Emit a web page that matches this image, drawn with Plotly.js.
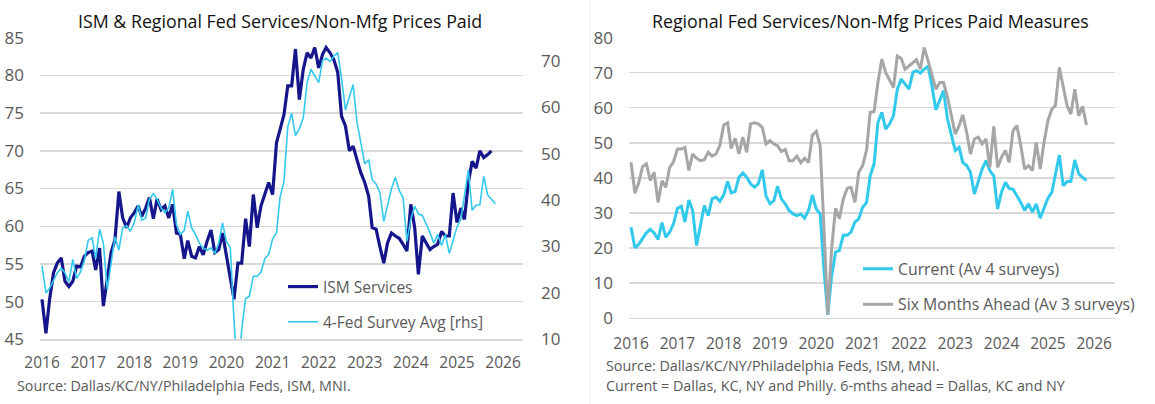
<!DOCTYPE html>
<html>
<head>
<meta charset="utf-8">
<script src="https://cdn.plot.ly/plotly-3.0.1.min.js"></script>
<style>
  html, body { margin: 0; padding: 0; background: #ffffff; }
  #chart { width: 1155px; height: 404px; }
</style>
</head>
<body>
<div id="chart"></div>
<script>
// ---- Data (monthly, first value = Jan 2016) ----
const startYear = 2016;
const startMonth = 1;

// ISM Services prices paid (left chart, left axis) Jan 2016 - Oct 2025
const ismServices = [
  50.3, 45.8, 50.3, 53.8, 55.1, 55.8, 52.7, 52.0, 52.7, 54.7, 54.6, 56.0,
  56.5, 56.7, 54.2, 57.1, 49.4, 53.4, 56.5, 58.2, 64.6, 61.1, 59.8, 61.1,
  61.8, 62.7, 61.3, 62.4, 63.8, 61.0, 63.6, 62.2, 62.7, 61.1, 62.9, 59.1,
  58.9, 55.7, 58.1, 56.0, 55.8, 57.3, 56.2, 58.0, 59.5, 56.5, 56.9, 59.1,
  56.0, 53.4, 50.3, 55.1, 55.1, 61.0, 57.3, 64.2, 59.8, 62.7, 64.4, 65.8,
  64.2, 71.1, 72.8, 74.8, 78.6, 78.6, 83.5, 76.8, 80.8, 83.0, 82.3, 83.7,
  81.0, 82.8, 83.7, 83.0, 82.1, 80.4, 74.6, 73.3, 70.0, 70.6, 68.8, 67.1,
  65.8, 64.0, 59.8, 59.6, 57.3, 55.1, 57.8, 59.1, 58.7, 58.4, 57.6, 56.7,
  62.9, 59.8, 53.6, 58.7, 57.8, 56.9, 57.3, 57.6, 59.3, 58.7, 58.7, 64.4,
  60.5, 62.4, 60.9, 65.8, 68.6, 67.7, 70.0, 69.1, 69.5, 70.0
];

// 4-Fed survey average, current prices paid (left chart rhs; right chart "Current") Jan 2016 - Nov 2025
const fourFedCurrent = [
  25.9, 20.0, 21.0, 22.6, 24.3, 25.3, 24.3, 22.4, 27.2, 23.1, 24.5, 26.9,
  31.3, 31.9, 27.4, 33.7, 30.7, 20.7, 26.4, 32.1, 29.2, 34.0, 34.5, 33.3,
  35.1, 39.0, 35.7, 36.1, 40.2, 41.4, 40.2, 38.3, 37.3, 38.3, 42.3, 34.8,
  32.6, 33.5, 37.6, 34.0, 32.6, 30.7, 29.7, 29.2, 29.7, 28.5, 30.7, 35.1,
  31.1, 29.7, 14.1, 0.9, 12.0, 18.8, 19.3, 23.6, 23.6, 24.5, 27.4, 28.3,
  31.6, 33.0, 40.6, 44.0, 55.8, 58.7, 53.9, 55.4, 57.7, 65.3, 68.2, 66.8,
  65.3, 70.1, 70.6, 69.9, 71.0, 71.8, 66.3, 59.4, 62.0, 64.9, 56.8, 52.0,
  47.8, 48.7, 44.4, 43.5, 41.6, 35.4, 39.2, 42.5, 44.9, 42.1, 40.5, 31.1,
  35.9, 38.7, 37.0, 36.7, 34.9, 33.0, 30.7, 32.6, 30.2, 32.6, 28.5, 31.6,
  34.2, 35.9, 41.1, 46.5, 37.8, 38.9, 39.0, 45.1, 41.1, 40.2, 39.2
];

// Six months ahead prices paid, average of 3 surveys, Jan 2016 - Nov 2025
const sixMonthsAhead = [
  44.4, 35.6, 38.5, 43.2, 44.0, 39.2, 41.6, 33.0, 39.2, 37.3, 43.0, 44.6,
  48.2, 48.2, 48.7, 42.1, 46.8, 45.6, 44.9, 45.2, 47.3, 46.2, 46.8, 49.2,
  55.1, 55.7, 48.4, 51.3, 46.8, 51.6, 47.3, 55.4, 55.7, 55.4, 54.4, 49.7,
  50.6, 49.7, 49.2, 47.5, 48.1, 44.9, 44.9, 46.2, 44.3, 45.6, 44.4, 52.2,
  53.3, 49.2, 26.0, 1.0, 19.8, 31.3, 28.3, 34.0, 37.0, 37.3, 33.0, 41.6,
  43.5, 48.0, 58.7, 58.9, 67.2, 73.9, 70.1, 67.7, 65.8, 74.8, 74.1, 71.0,
  72.0, 72.9, 73.7, 71.0, 77.2, 73.4, 69.6, 65.3, 67.2, 67.2, 63.0, 57.7,
  52.5, 54.9, 58.0, 53.0, 46.8, 51.1, 51.6, 49.7, 51.1, 43.0, 54.7, 43.0,
  45.9, 47.8, 44.4, 53.5, 54.9, 49.2, 42.5, 43.5, 42.1, 50.1, 42.5, 50.1,
  56.3, 59.6, 60.6, 71.5, 66.3, 60.6, 58.2, 65.3, 57.7, 60.4, 55.1
];

const leftTickVals = [45, 50, 55, 60, 65, 70, 75, 80, 85];
const rightTickVals = [10, 20, 30, 40, 50, 60, 70];
const right2TickVals = [0, 10, 20, 30, 40, 50, 60, 70, 80];

// ---- helpers ----
function monthDates(n) {
  const out = [];
  for (let i = 0; i < n; i++) {
    const m0 = (startMonth - 1) + i;
    const y = startYear + Math.floor(m0 / 12);
    const m = (m0 % 12) + 1;
    out.push(y + '-' + (m < 10 ? '0' + m : m) + '-01');
  }
  return out;
}

const FONT = '"Open Sans", "Liberation Sans", sans-serif';
const NAVY = '#15158C';
const CYAN = '#33C9EC';
const GREY = '#A6A6A6';
const GRID = '#D9D9D9';
const TXT = '#595959';
const W = 1155, H = 404;

const traces = [
  {
    x: monthDates(ismServices.length), y: ismServices,
    type: 'scatter', mode: 'lines', name: 'ISM Services',
    line: { color: NAVY, width: 3.2 },
    xaxis: 'x', yaxis: 'y', legend: 'legend', legendgroup: 'a'
  },
  {
    x: monthDates(fourFedCurrent.length), y: fourFedCurrent,
    type: 'scatter', mode: 'lines', name: '4-Fed Survey Avg [rhs]',
    line: { color: CYAN, width: 1.6 },
    xaxis: 'x', yaxis: 'y2', legend: 'legend', legendgroup: 'b'
  },
  {
    x: monthDates(fourFedCurrent.length), y: fourFedCurrent,
    type: 'scatter', mode: 'lines', name: 'Current (Av 4 surveys)',
    line: { color: CYAN, width: 3 },
    xaxis: 'x2', yaxis: 'y3', legend: 'legend2', legendgroup: 'c'
  },
  {
    x: monthDates(sixMonthsAhead.length), y: sixMonthsAhead,
    type: 'scatter', mode: 'lines', name: 'Six Months Ahead (Av 3 surveys)',
    line: { color: GREY, width: 3 },
    xaxis: 'x2', yaxis: 'y3', legend: 'legend2', legendgroup: 'd'
  }
];

const xCommon = {
  type: 'date', tick0: '2016-01-01', dtick: 'M12', tickformat: '%Y',
  showgrid: false, zeroline: false,
  showline: true, linecolor: GRID, linewidth: 1.4,
  ticks: '',
  tickfont: { family: FONT, size: 15.5, color: TXT },
  fixedrange: true
};
const yCommon = {
  showgrid: true, gridcolor: GRID, gridwidth: 1.4, zeroline: false,
  showline: false, ticks: '',
  tickfont: { family: FONT, size: 17, color: TXT }, fixedrange: true
};

const layout = {
  width: W, height: H,
  margin: { l: 0, r: 0, t: 0, b: 0, pad: 0 },
  paper_bgcolor: '#ffffff', plot_bgcolor: 'rgba(0,0,0,0)',
  font: { family: FONT, color: TXT },
  showlegend: true,
  xaxis: Object.assign({}, xCommon, {
    domain: [40 / W, 523 / W], anchor: 'y',
    range: ['2015-12-16', '2026-06-08'], ticklabelstandoff: 9
  }),
  yaxis: Object.assign({}, yCommon, {
    domain: [1 - 339.3 / H, 1 - 37.7 / H], anchor: 'x',
    range: [45, 85], tickvals: leftTickVals, ticklabelstandoff: 15
  }),
  yaxis2: Object.assign({}, yCommon, {
    overlaying: 'y', side: 'right', anchor: 'x', showgrid: false,
    range: [10, 75], tickvals: rightTickVals, ticklabelstandoff: 17
  }),
  xaxis2: Object.assign({}, xCommon, {
    domain: [629 / W, 1115 / W], anchor: 'y3',
    range: ['2015-12-16', '2026-06-14'], ticklabelstandoff: 11
  }),
  yaxis3: Object.assign({}, yCommon, {
    domain: [1 - 318 / H, 1 - 37.7 / H], anchor: 'x2',
    range: [0, 80], tickvals: right2TickVals, ticklabelstandoff: 15
  }),
  legend: {
    x: 283 / W, y: 1 - 270 / H, xanchor: 'left', yanchor: 'top',
    bgcolor: 'rgba(0,0,0,0)', borderwidth: 0,
    font: { family: FONT, size: 15.5, color: TXT },
    traceorder: 'grouped', tracegroupgap: 12
  },
  legend2: {
    x: 858 / W, y: 1 - 252 / H, xanchor: 'left', yanchor: 'top',
    bgcolor: 'rgba(0,0,0,0)', borderwidth: 0,
    font: { family: FONT, size: 15.8, color: TXT },
    traceorder: 'grouped', tracegroupgap: 12
  },
  shapes: [
    { type: 'line', xref: 'paper', yref: 'paper', x0: 590 / W, x1: 590 / W, y0: 0, y1: 1,
      line: { color: '#EFEFEF', width: 1 }, layer: 'below' }
  ],
  annotations: [
    { text: 'ISM &amp; Regional Fed Services/Non-Mfg Prices Paid', xref: 'paper', yref: 'paper',
      x: 280 / W, y: 1 - 21 / H, xanchor: 'center', yanchor: 'middle', showarrow: false,
      font: { family: FONT, size: 17.8, color: '#111111' } },
    { text: 'Regional Fed Services/Non-Mfg Prices Paid Measures', xref: 'paper', yref: 'paper',
      x: 870 / W, y: 1 - 21 / H, xanchor: 'center', yanchor: 'middle', showarrow: false,
      font: { family: FONT, size: 17.8, color: '#111111' } },
    { text: 'Source: Dallas/KC/NY/Philadelphia Feds, ISM, MNI.', xref: 'paper', yref: 'paper',
      x: 15 / W, y: 1 - 385 / H, xanchor: 'left', yanchor: 'middle', showarrow: false,
      font: { family: FONT, size: 14.3, color: TXT } },
    { text: 'Source: Dallas/KC/NY/Philadelphia Feds, ISM, MNI.', xref: 'paper', yref: 'paper',
      x: 604 / W, y: 1 - 365 / H, xanchor: 'left', yanchor: 'middle', showarrow: false,
      font: { family: FONT, size: 14.3, color: TXT } },
    { text: 'Current = Dallas, KC, NY and Philly. 6-mths ahead = Dallas, KC and NY', xref: 'paper', yref: 'paper',
      x: 604 / W, y: 1 - 385 / H, xanchor: 'left', yanchor: 'middle', showarrow: false,
      font: { family: FONT, size: 14.3, color: TXT } }
  ]
};

Plotly.newPlot('chart', traces, layout, { staticPlot: true, displayModeBar: false });
</script>
</body>
</html>
